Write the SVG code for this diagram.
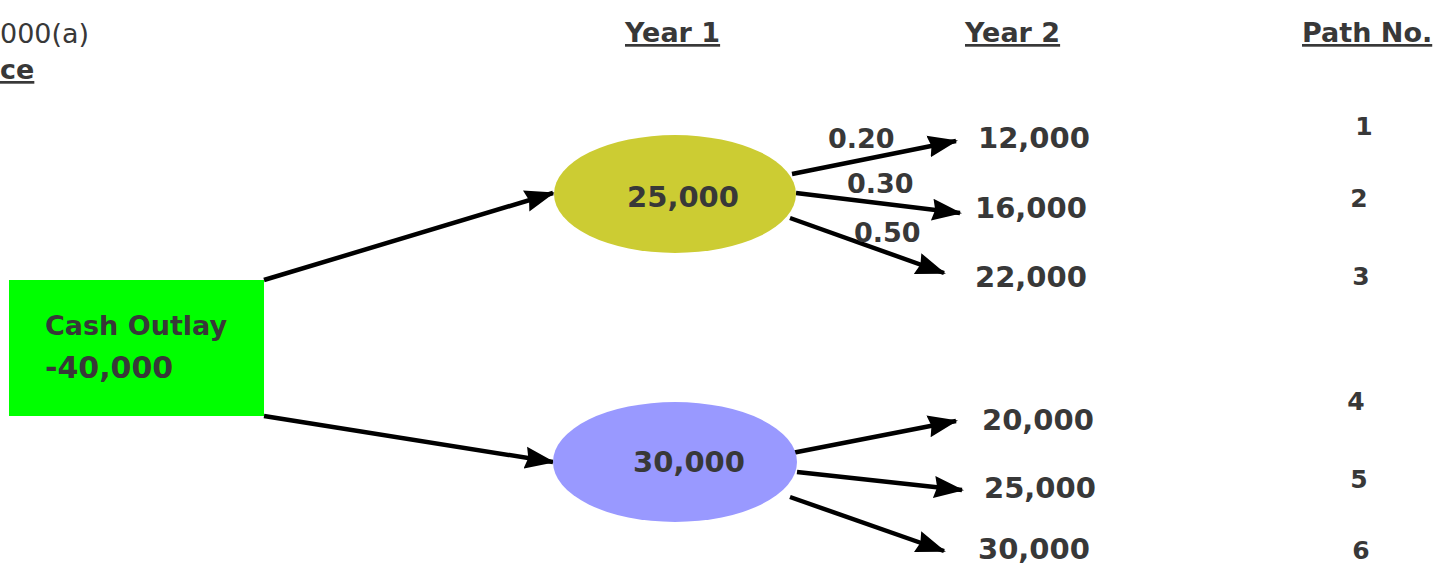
<svg xmlns="http://www.w3.org/2000/svg" width="1436" height="566" viewBox="0 0 1436 566">
<defs>
<marker id="ah" markerUnits="userSpaceOnUse" markerWidth="30" markerHeight="24" refX="28" refY="12" orient="auto">
<path d="M0,1 L30,12 L0,23 L3,12 Z" fill="#000"/>
</marker>
</defs>
<style>
text{font-family:"DejaVu Sans","Liberation Sans",sans-serif;fill:#383838;font-weight:bold}
.hd{font-size:27px;text-decoration:underline}
.val{font-size:29px}
.pr{font-size:27px}
.pn{font-size:25px}
.edge{stroke:#000;stroke-width:4.5;fill:none;marker-end:url(#ah)}
</style>
<rect width="1436" height="566" fill="#fff"/>
<g id="header">
<text x="0" y="43" style="font-weight:normal;font-size:27px">000(a)</text>
<text x="0" y="79" style="font-size:27px;text-decoration:underline">ce</text>
<text class="hd" x="625" y="42">Year 1</text>
<text class="hd" x="965" y="42">Year 2</text>
<text class="hd" x="1302" y="42">Path No.</text>
</g>
<g id="connectors">
<line class="edge" x1="264" y1="280" x2="553" y2="193"/>
<line class="edge" x1="264" y1="416" x2="553" y2="462"/>
<line class="edge" x1="792" y1="174" x2="956" y2="141"/>
<line class="edge" x1="796" y1="193" x2="960" y2="213"/>
<line class="edge" x1="790" y1="218" x2="944" y2="273"/>
<line class="edge" x1="792" y1="453" x2="956" y2="421"/>
<line class="edge" x1="797" y1="472" x2="962" y2="490"/>
<line class="edge" x1="790" y1="497" x2="944" y2="551"/>
</g>
<g id="node-cash">
<rect x="9" y="280" width="255" height="136" fill="#00ff00"/>
<text x="45" y="335" style="font-size:27px">Cash Outlay</text>
<text x="45" y="378" style="font-size:30px">-40,000</text>
</g>
<g id="node-y1a">
<ellipse cx="675" cy="194" rx="121" ry="59" fill="#cccc33"/>
<text x="683" y="207" text-anchor="middle" class="val">25,000</text>
</g>
<g id="node-y1b">
<ellipse cx="675" cy="462" rx="122" ry="60" fill="#9999ff"/>
<text x="689" y="472" text-anchor="middle" class="val">30,000</text>
</g>
<g id="probs">
<text class="pr" x="828" y="148">0.20</text>
<text class="pr" x="847" y="193">0.30</text>
<text class="pr" x="854" y="242">0.50</text>
</g>
<g id="year2">
<text class="val" x="978" y="148">12,000</text>
<text class="val" x="975" y="218">16,000</text>
<text class="val" x="975" y="287">22,000</text>
<text class="val" x="982" y="430">20,000</text>
<text class="val" x="984" y="498">25,000</text>
<text class="val" x="978" y="559">30,000</text>
</g>
<g id="paths">
<text class="pn" x="1364" y="135" text-anchor="middle">1</text>
<text class="pn" x="1359" y="207" text-anchor="middle">2</text>
<text class="pn" x="1361" y="285" text-anchor="middle">3</text>
<text class="pn" x="1356" y="410" text-anchor="middle">4</text>
<text class="pn" x="1359" y="488" text-anchor="middle">5</text>
<text class="pn" x="1361" y="559" text-anchor="middle">6</text>
</g>
</svg>
